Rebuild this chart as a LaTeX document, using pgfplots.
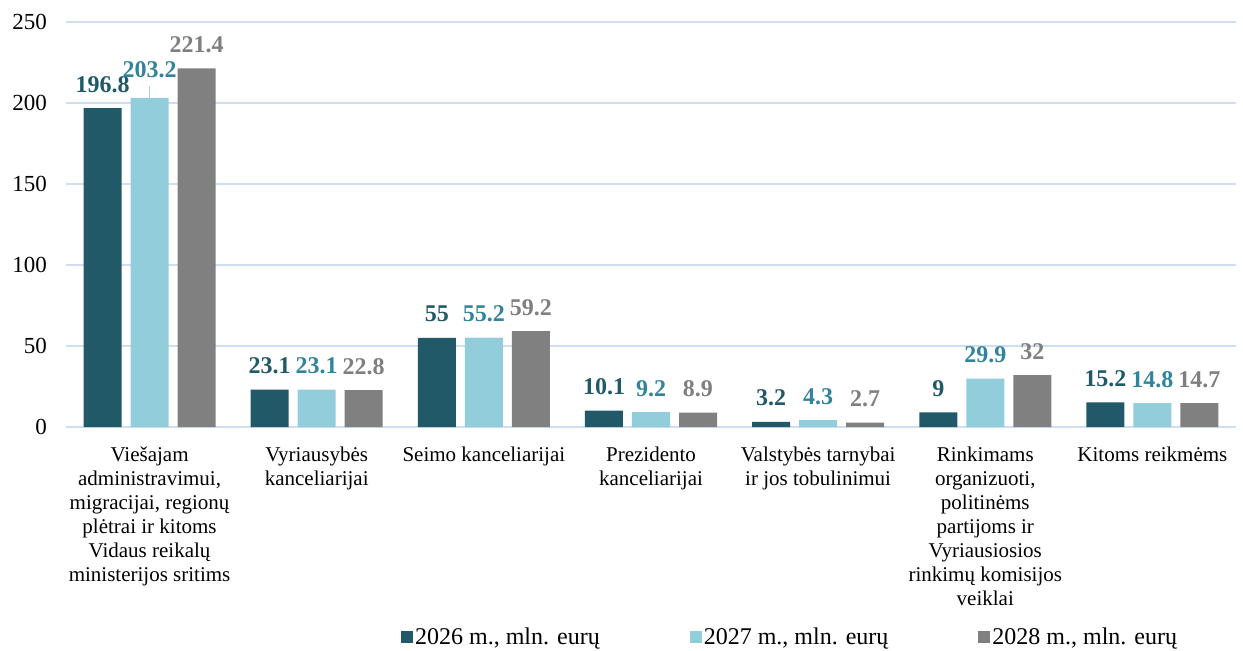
\documentclass[border=0pt]{standalone}
\usepackage{pgfplots}
\pgfplotsset{compat=1.18}
\usepackage{fontspec}
\setmainfont{Liberation Serif}

\definecolor{sdark}{HTML}{215968}
\definecolor{slight}{HTML}{92CDDC}
\definecolor{sgray}{HTML}{808080}
\definecolor{llight}{HTML}{31849B}
\definecolor{lgray}{HTML}{7F7F7F}
\definecolor{gridc}{RGB}{207,222,242}

\begin{document}
\begin{tikzpicture}
\useasboundingbox (-33pt,-111.5pt) rectangle (588.5pt,213.5pt);
\begin{axis}[
  scale only axis,
  width=585pt, height=202.5pt,
  xmin=-0.5, xmax=6.5,
  ymin=0, ymax=250,
  ytick={0,50,...,250},
  xtick={0,...,6},
  xticklabels={
    {Viešajam\\administravimui,\\migracijai, regionų\\plėtrai ir kitoms\\Vidaus reikalų\\ministerijos sritims},
    {Vyriausybės\\kanceliarijai},
    {Seimo kanceliarijai},
    {Prezidento\\kanceliarijai},
    {Valstybės tarnybai\\ir jos tobulinimui},
    {Rinkimams\\organizuoti,\\politinėms\\partijoms ir\\Vyriausiosios\\rinkimų komisijos\\veiklai},
    {Kitoms reikmėms}},
  ybar=4.5pt,
  bar width=19pt,
  axis line style={draw=none},
  tick style={draw=none},
  ymajorgrids,
  grid style={gridc, line width=0.75pt},
  /pgf/number format/assume math mode=true,
  yticklabel style={font=\fontsize{11.5}{13}\selectfont, xshift=-6pt},
  xticklabel style={font=\fontsize{10.5}{12}\selectfont, align=center, yshift=-2pt},
  nodes near coords,
  nodes near coords style={font=\bfseries\fontsize{12}{14}\selectfont, anchor=base, inner sep=0pt, yshift=8pt},
  legend style={at={(0.281,-0.519)}, anchor=west, draw=none, fill=none,
    font=\fontsize{12}{14}\selectfont,
    legend columns=3,
    /tikz/every odd column/.append style={column sep=-1pt},
    /tikz/every even column/.append style={column sep=43pt}},
  legend image code/.code={\fill[#1,draw=none] (0pt,-3pt) rectangle (6pt,3pt);},
]
\addplot[fill=sdark, draw=none, nodes near coords style={text=sdark}] coordinates {
  (0,196.8) (1,23.1) (2,55) (3,10.1) (4,3.2) (5,9) (6,15.2)};
\addplot[fill=slight, draw=none, nodes near coords style={text=llight},
  coordinate style/.condition={x==0}{yshift=2pt}] coordinates {
  (0,203.2) (1,23.1) (2,55.2) (3,9.2) (4,4.3) (5,29.9) (6,14.8)};
\addplot[fill=sgray, draw=none, nodes near coords style={text=lgray}] coordinates {
  (0,221.4) (1,22.8) (2,59.2) (3,8.9) (4,2.7) (5,32) (6,14.7)};
\legend{{2026 m., mln. eurų}, {2027 m., mln. eurų}, {2028 m., mln. eurų}}
\draw[slight!70!gridc, line width=0.6pt] (axis cs:0,203.2) -- (axis cs:0,210.6);
\end{axis}
\end{tikzpicture}
\end{document}
